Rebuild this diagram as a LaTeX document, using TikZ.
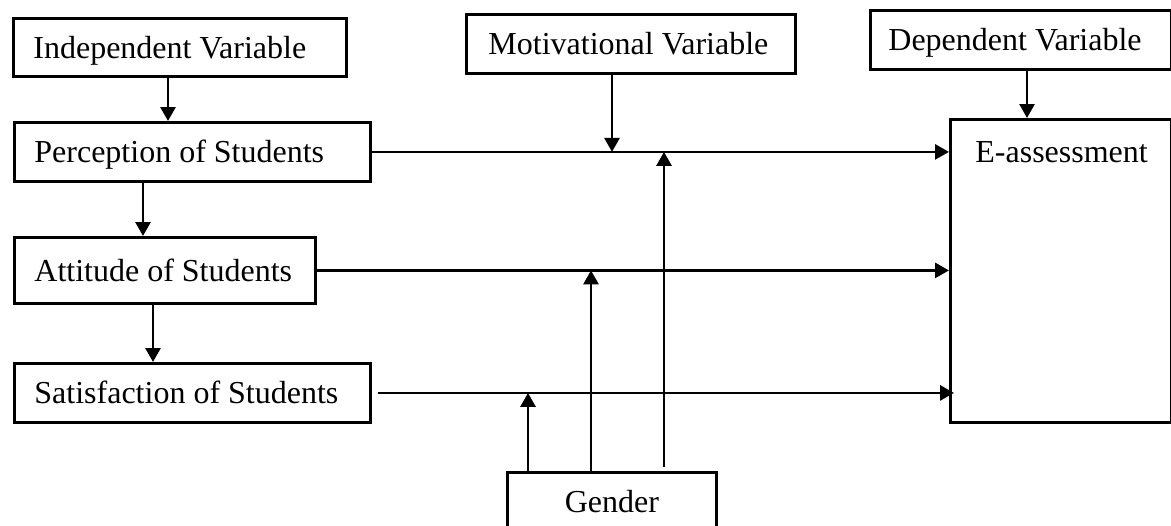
\documentclass[tikz,border=0pt]{standalone}
\usepackage{fontspec}
\setmainfont{Liberation Serif}
\usetikzlibrary{arrows.meta,calc}
\begin{document}
\begin{tikzpicture}[x=0.5pt,y=-0.5pt,
  box/.style={draw, line width=1.4pt, inner ysep=0pt,
    text height=10.6pt, text depth=0pt, font=\fontsize{16}{19}\selectfont,
    anchor=north west},
  arr/.style={-{Triangle[width=7.5pt,length=7pt]}, line width=1.4pt}]
\useasboundingbox (0,0) rectangle (1171,525);
\clip (0,0) rectangle (1171,525);
% nodes
\node[box, inner xsep=10pt, minimum height=29pt] (ind) at (12,17) {\makebox[146.5pt][l]{Independent Variable}};
\node[box, inner xsep=10pt, minimum height=29.5pt] (perc) at (13,121) {\makebox[158pt][l]{Perception of Students}};
\node[box, inner xsep=10pt, minimum height=33pt] (att) at (13,236) {\makebox[130.5pt][l]{Attitude of Students}};
\node[box, inner xsep=10pt, minimum height=29.5pt] (sat) at (13,362) {\makebox[158pt][l]{Satisfaction of Students}};
\node[box, inner xsep=11pt, minimum height=29.5pt] (mot) at (465,13) {\makebox[142.5pt][l]{Motivational Variable}};
\node[box, inner xsep=9pt, minimum height=29.5pt] (dep) at (869,9) {\makebox[132.25pt][l]{Dependent Variable}};
\node[box, inner xsep=12.5pt, inner ysep=10.9pt, text depth=119.1pt] (eas) at (949,118) {\makebox[85.25pt][l]{E-assessment}};
\node[box, inner xsep=0pt, inner ysep=9.4pt, text depth=30pt] (gen) at (506,471) {\makebox[104.5pt][c]{Gender}};
% helper coordinates
\coordinate (c1) at (168,0);
\coordinate (c2) at (143,0);
\coordinate (c3) at (153,0);
\coordinate (c4) at (1027,0);
\coordinate (c5) at (612,0);
\coordinate (g1) at (528,0);
\coordinate (g2) at (591,0);
\coordinate (g3) at (664,0);
% vertical chain
\draw[arr] (ind.south -| c1) -- (perc.north -| c1);
\draw[arr] (perc.south -| c2) -- (att.north -| c2);
\draw[arr] (att.south -| c3) -- (sat.north -| c3);
\draw[arr] (dep.south -| c4) -- (eas.north -| c4);
% horizontal lines
\draw[arr] (perc.east) -- (perc.east -| eas.west);
\draw[arr] (att.east) -- (att.east -| eas.west);
\draw[arr] ($(sat.east)+(6,0)$) -- ($(sat.east -| eas.west)+(5,0)$);
% moderators
\draw[arr] (mot.south -| c5) -- (perc.east -| c5);
\draw[arr] ($(gen.north -| g3)+(0,-4)$) -- (perc.east -| g3);
\draw[arr] (gen.north -| g2) -- (att.east -| g2);
\draw[arr] (gen.north -| g1) -- (sat.east -| g1);
\end{tikzpicture}
\end{document}
